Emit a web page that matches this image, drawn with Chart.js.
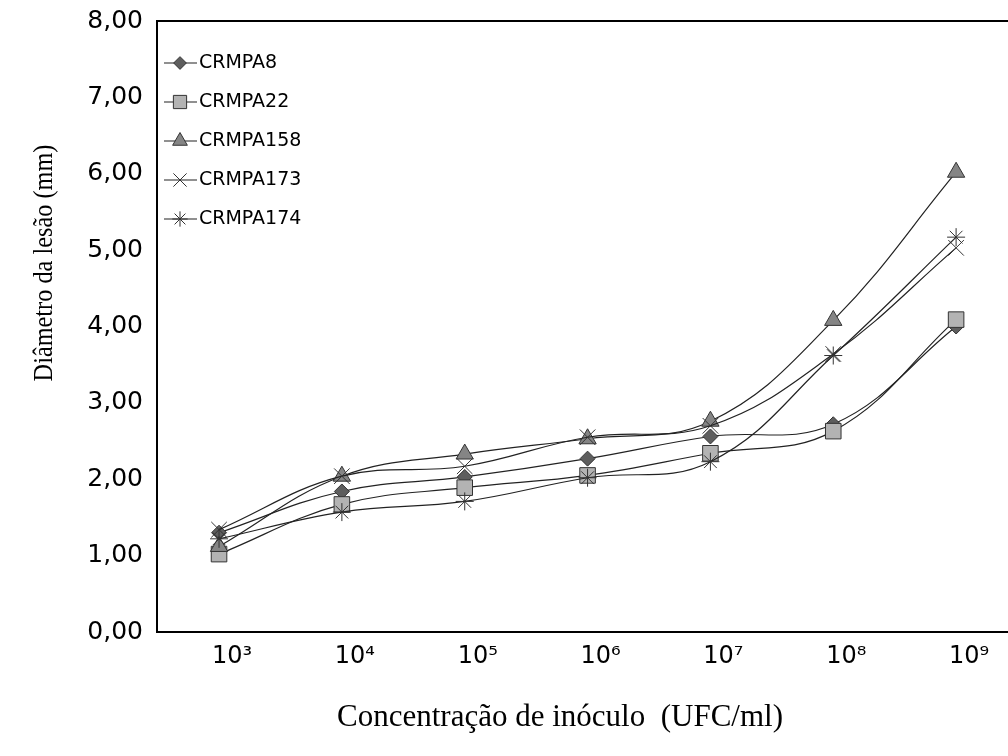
<!DOCTYPE html>
<html>
<head>
<meta charset="utf-8">
<script src="https://cdn.jsdelivr.net/npm/chart.js@4/dist/chart.umd.min.js"></script>
<style>
  html, body { margin: 0; padding: 0; background: #fff; overflow: hidden; }
  #wrap { width: 1024px; height: 756px; }
</style>
</head>
<body>
<div id="wrap"><canvas id="chart"></canvas></div>
<script>
// Concentração de inóculo (UFC/ml)
const xLabels = ['10³', '10⁴', '10⁵', '10⁶', '10⁷', '10⁸', '10⁹'];
const yTicks = [0, 1, 2, 3, 4, 5, 6, 7, 8];

// Diâmetro da lesão (mm)
const crmpa8 = [1.30, 1.84, 2.03, 2.27, 2.56, 2.72, 4.00];
const crmpa22 = [1.02, 1.67, 1.89, 2.05, 2.34, 2.63, 4.09];
const crmpa158 = [1.12, 2.04, 2.33, 2.53, 2.76, 4.08, 6.02];
const crmpa173 = [1.34, 2.04, 2.17, 2.55, 2.70, 3.64, 5.03];
const crmpa174 = [1.22, 1.57, 1.71, 2.02, 2.23, 3.62, 5.17];

const seriesNames = ['CRMPA8', 'CRMPA22', 'CRMPA158', 'CRMPA173', 'CRMPA174'];
const seriesData = [crmpa8, crmpa22, crmpa158, crmpa173, crmpa174];

const styles = [
    { pointStyle: 'rectRot', radius: 7.5, fill: '#5e5e5e' },
    { pointStyle: 'rect', radius: 11, fill: '#b3b3b3' },
    { pointStyle: 'triangle', radius: 10, fill: '#858585' },
    { pointStyle: 'crossRot', radius: 11, fill: '#000' },
    { pointStyle: 'star', radius: 9, fill: '#000' }
];

const datasets = seriesNames.map((name, i) => ({
    label: name,
    data: seriesData[i].map((v, j) => ({ x: j, y: v })),
    borderColor: '#222',
    borderWidth: 1.2,
    tension: 0.4,
    pointStyle: styles[i].pointStyle,
    pointRadius: styles[i].radius,
    pointHoverRadius: styles[i].radius,
    pointBackgroundColor: styles[i].fill,
    pointBorderColor: '#333',
    pointBorderWidth: 1,
    order: seriesNames.length - i   // Excel draws the last series on top
}));

const sans = '"DejaVu Sans", sans-serif';
const serif = '"Liberation Serif", serif';

// frame, legend with line samples and the two axis titles
const frameAndLegend = {
    id: 'frameAndLegend',
    afterDraw(chart) {
        const ctx = chart.ctx;
        const a = chart.chartArea;
        ctx.save();
        ctx.strokeStyle = '#000';
        ctx.lineWidth = 2;
        ctx.beginPath();
        ctx.moveTo(a.left, a.bottom);
        ctx.lineTo(a.left, a.top);
        ctx.lineTo(a.right, a.top);
        ctx.stroke();

        ctx.font = '19px ' + sans;
        ctx.textBaseline = 'middle';
        ctx.textAlign = 'left';
        chart.data.datasets.forEach((ds, i) => {
            const y = a.top + 42 + i * 39;
            const x0 = a.left + 7;
            ctx.strokeStyle = '#222';
            ctx.lineWidth = 1.2;
            ctx.beginPath();
            ctx.moveTo(x0, y);
            ctx.lineTo(x0 + 33, y);
            ctx.stroke();
            ctx.fillStyle = styles[i].fill;
            ctx.strokeStyle = '#333';
            ctx.lineWidth = 1;
            Chart.helpers.drawPoint(ctx, {
                pointStyle: styles[i].pointStyle,
                radius: styles[i].radius * 0.85,
                borderWidth: 1,
                rotation: 0
            }, x0 + 16, y);
            ctx.fillStyle = '#000';
            ctx.fillText(ds.label, x0 + 35, y);
        });

        ctx.fillStyle = '#000';
        ctx.textAlign = 'center';
        ctx.font = '31px ' + serif;
        ctx.fillText('Concentração de inóculo  (UFC/ml)', 560, 718);

        ctx.translate(45, 263);
        ctx.rotate(-Math.PI / 2);
        ctx.scale(0.9, 1);
        ctx.font = '27px ' + serif;
        ctx.fillText('Diâmetro da lesão (mm)', 0, 0);
        ctx.restore();
    }
};

new Chart(document.getElementById('chart'), {
    type: 'line',
    data: { datasets },
    options: {
        responsive: true,
        maintainAspectRatio: false,
        animation: false,
        layout: { padding: { top: 21, right: 0, left: 0, bottom: 0 } },
        plugins: {
            legend: { display: false },
            tooltip: { enabled: false }
        },
        scales: {
            x: {
                type: 'linear',
                min: -0.505,
                max: 6.455,
                grid: { display: false, drawTicks: false },
                border: { display: true, color: '#000', width: 2 },
                afterBuildTicks: scale => { scale.ticks = xLabels.map((_, i) => ({ value: i })); },
                afterFit: scale => { scale.height = 124; scale.paddingLeft = 0; scale.paddingRight = 0; },
                ticks: {
                    color: '#000',
                    font: { family: sans, size: 24 },
                    padding: 10,
                    labelOffset: 13,
                    maxRotation: 0,
                    callback: v => xLabels[v]
                }
            },
            y: {
                min: 0,
                max: 8,
                grid: { display: false, drawTicks: false },
                border: { display: true, color: '#000', width: 2 },
                afterBuildTicks: scale => { scale.ticks = yTicks.map(v => ({ value: v })); },
                afterFit: scale => { scale.width = 157; scale.paddingTop = 0; scale.paddingBottom = 0; },
                ticks: {
                    color: '#000',
                    font: { family: sans, size: 25 },
                    padding: 14,
                    callback: v => v.toFixed(2).replace('.', ',')
                }
            }
        }
    },
    plugins: [frameAndLegend]
});
</script>
</body>
</html>
